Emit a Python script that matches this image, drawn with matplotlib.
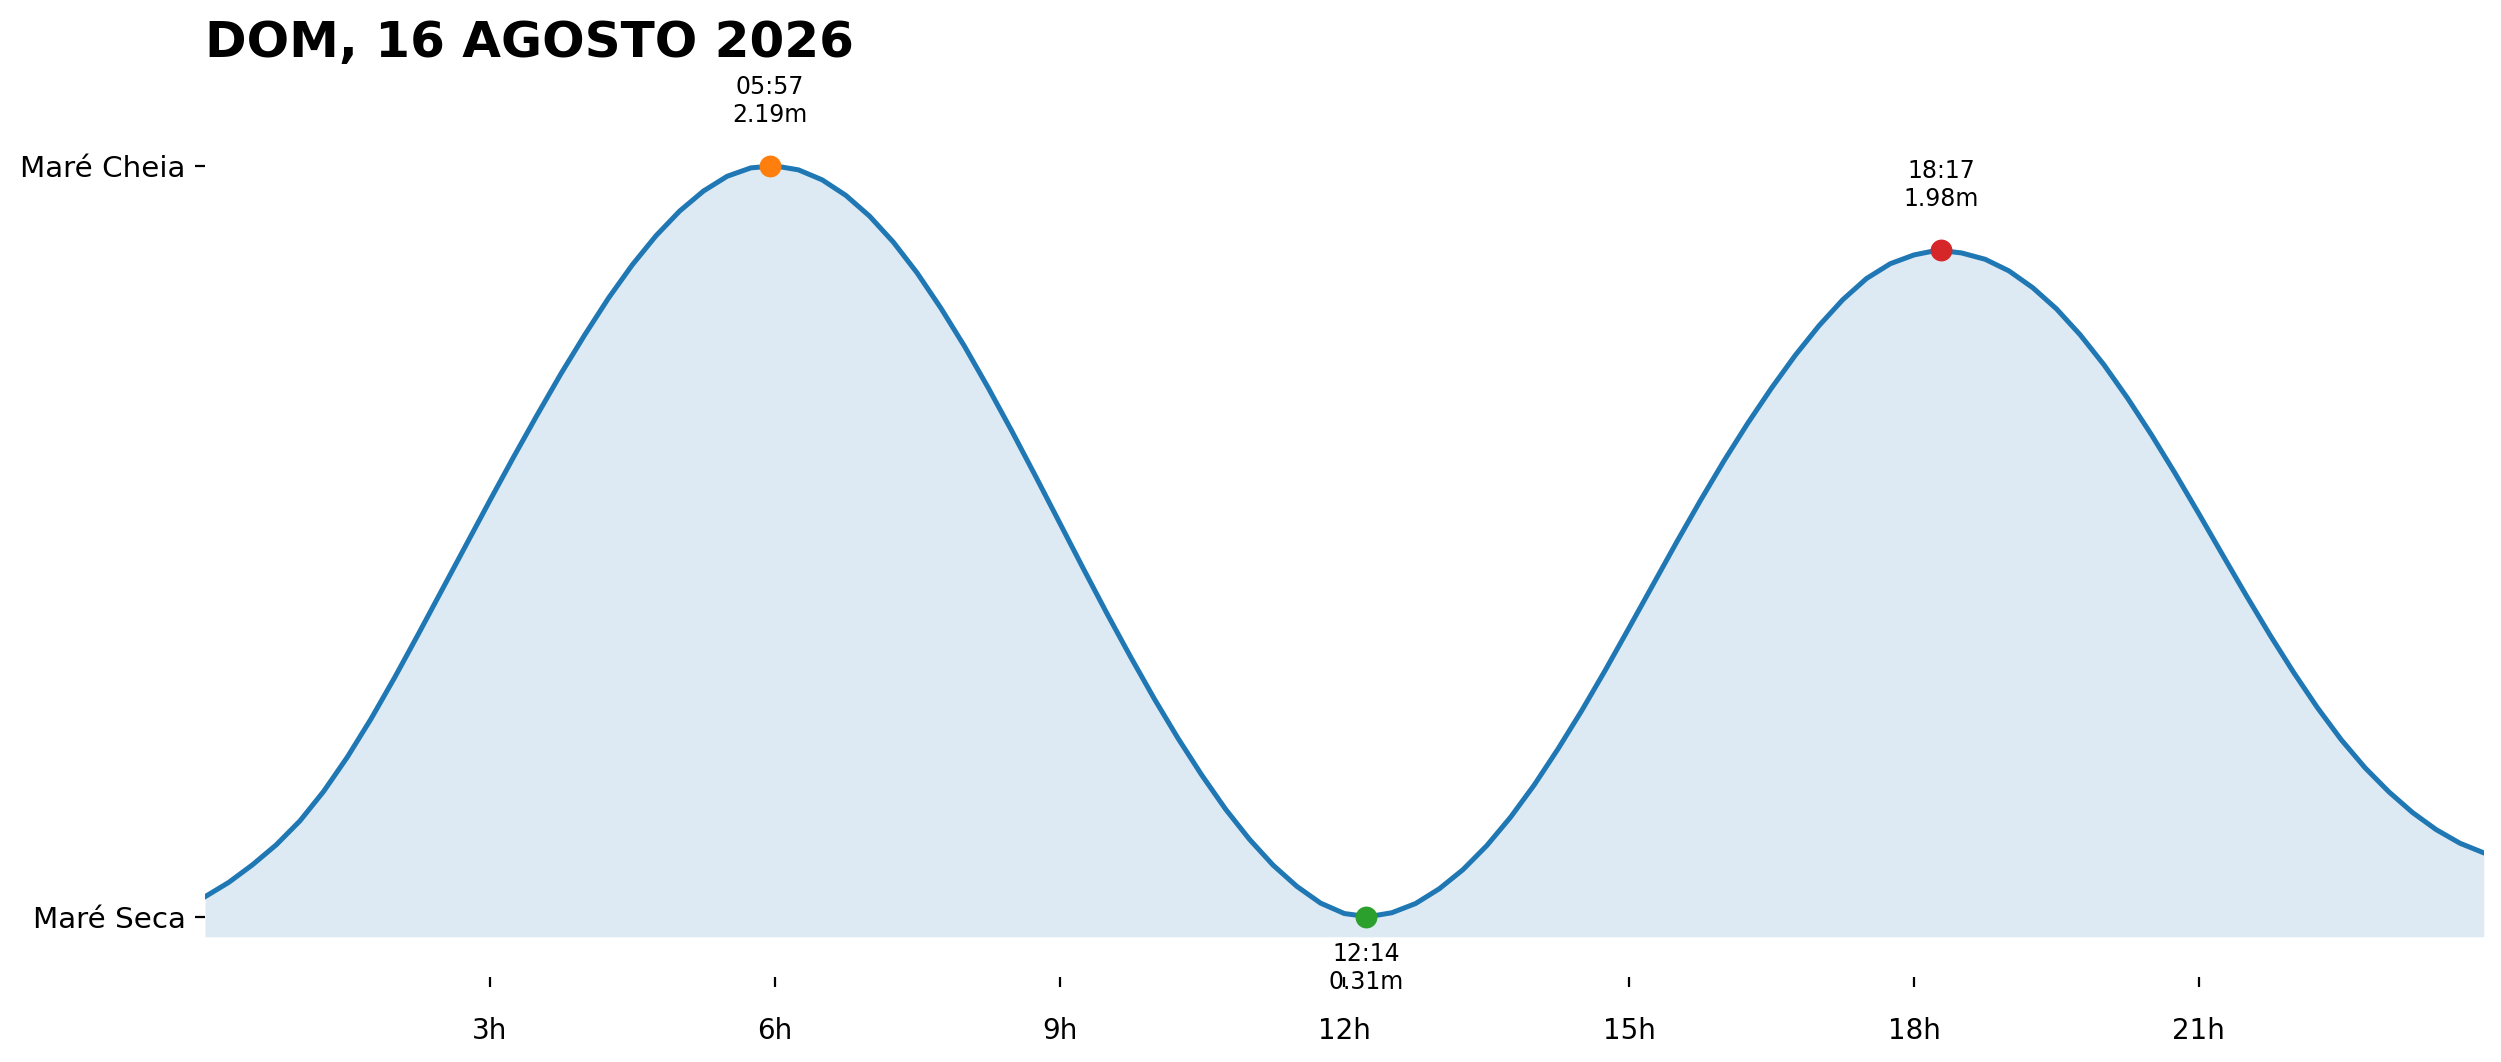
import matplotlib
matplotlib.use("Agg")
import matplotlib.pyplot as plt

OUT_PATH = "out.png"
DPI = 200

TITLE = "DOM, 16 AGOSTO 2026"

# tide curve every quarter hour (hours since midnight, metres)
curve_hours = [
    0.0, 0.25, 0.5, 0.75, 1.0, 1.25, 1.5, 1.75, 2.0, 2.25, 2.5, 2.75,
    3.0, 3.25, 3.5, 3.75, 4.0, 4.25, 4.5, 4.75, 5.0, 5.25, 5.5, 5.75,
    6.0, 6.25, 6.5, 6.75, 7.0, 7.25, 7.5, 7.75, 8.0, 8.25, 8.5, 8.75,
    9.0, 9.25, 9.5, 9.75, 10.0, 10.25, 10.5, 10.75, 11.0, 11.25, 11.5, 11.75,
    12.0, 12.25, 12.5, 12.75, 13.0, 13.25, 13.5, 13.75, 14.0, 14.25, 14.5, 14.75,
    15.0, 15.25, 15.5, 15.75, 16.0, 16.25, 16.5, 16.75, 17.0, 17.25, 17.5, 17.75,
    18.0, 18.25, 18.5, 18.75, 19.0, 19.25, 19.5, 19.75, 20.0, 20.25, 20.5, 20.75,
    21.0, 21.25, 21.5, 21.75, 22.0, 22.25, 22.5, 22.75, 23.0, 23.25, 23.5, 23.75,
    24.0,
]
curve_heights = [
    0.36, 0.396, 0.44, 0.49, 0.55, 0.624, 0.71, 0.806, 0.91, 1.019, 1.13, 1.241,
    1.352, 1.461, 1.567, 1.67, 1.767, 1.859, 1.942, 2.015, 2.077, 2.127, 2.164, 2.185,
    2.19, 2.18, 2.155, 2.116, 2.064, 1.999, 1.922, 1.834, 1.738, 1.634, 1.525, 1.412,
    1.297, 1.182, 1.069, 0.96, 0.855, 0.756, 0.664, 0.579, 0.504, 0.439, 0.386, 0.344,
    0.318, 0.31, 0.32, 0.343, 0.38, 0.428, 0.488, 0.559, 0.64, 0.73, 0.826, 0.928,
    1.034, 1.141, 1.248, 1.352, 1.452, 1.546, 1.634, 1.716, 1.79, 1.855, 1.908, 1.945,
    1.967, 1.979, 1.972, 1.956, 1.927, 1.885, 1.832, 1.767, 1.692, 1.608, 1.517, 1.42,
    1.319, 1.216, 1.114, 1.015, 0.921, 0.833, 0.753, 0.683, 0.623, 0.571, 0.528, 0.494,
    0.47,
]

# high / low tide events
event_hours = [5.95, 12.233, 18.283]
event_labels = ["05:57", "12:14", "18:17"]
event_heights = [2.19, 0.31, 1.98]
event_is_high = [True, False, True]
event_colors = ["#ff7f0e", "#2ca02c", "#d62728"]

xtick_hours = [3, 6, 9, 12, 15, 18, 21]
xtick_labels = ["3h", "6h", "9h", "12h", "15h", "18h", "21h"]
ytick_labels = ["Maré Seca", "Maré Cheia"]


def main() -> None:
    fig = plt.figure(figsize=(2501 / DPI, 1062 / DPI), dpi=DPI)
    ax = fig.add_axes([205 / 2501, 125.3 / 1062, 2278.7 / 2501, 862.7 / 1062])

    lo = min(curve_heights)
    hi = max(curve_heights)
    y_bottom = lo - 0.05
    y_top = hi + 0.23

    ax.plot(curve_hours, curve_heights, color="#1f77b4", lw=1.8, zorder=2,
            solid_joinstyle="round")
    ax.fill_between(curve_hours, curve_heights, y_bottom, color="#1f77b4",
                    alpha=0.15, lw=0, zorder=1)

    for t, lab, h, is_high, c in zip(event_hours, event_labels, event_heights,
                                     event_is_high, event_colors):
        ax.scatter([t], [h], s=62, color=c, zorder=3, linewidths=0)
        if is_high:
            ax.annotate(f"{lab}\n{h:.2f}m", (t, h), xytext=(0, 14),
                        textcoords="offset points", ha="center", va="bottom",
                        fontsize=8.5)
        else:
            ax.annotate(f"{lab}\n{h:.2f}m", (t, h), xytext=(0, -9),
                        textcoords="offset points", ha="center", va="top",
                        fontsize=8.5)

    ax.set_xlim(0, 24)
    ax.set_ylim(y_bottom, y_top)

    ax.set_xticks(xtick_hours)
    ax.set_xticklabels(xtick_labels, fontsize=10.6)
    ax.set_yticks([lo, hi])
    ax.set_yticklabels(ytick_labels, fontsize=10.6)
    ax.tick_params(axis="x", pad=11)

    ax.spines["bottom"].set_position(("outward", 14.5))
    for side in ["top", "right", "left", "bottom"]:
        ax.spines[side].set_visible(False)

    ax.set_title(TITLE, loc="left", fontsize=18, fontweight="bold")

    fig.savefig(OUT_PATH, dpi=DPI)
    plt.close(fig)


if __name__ == "__main__":
    main()
